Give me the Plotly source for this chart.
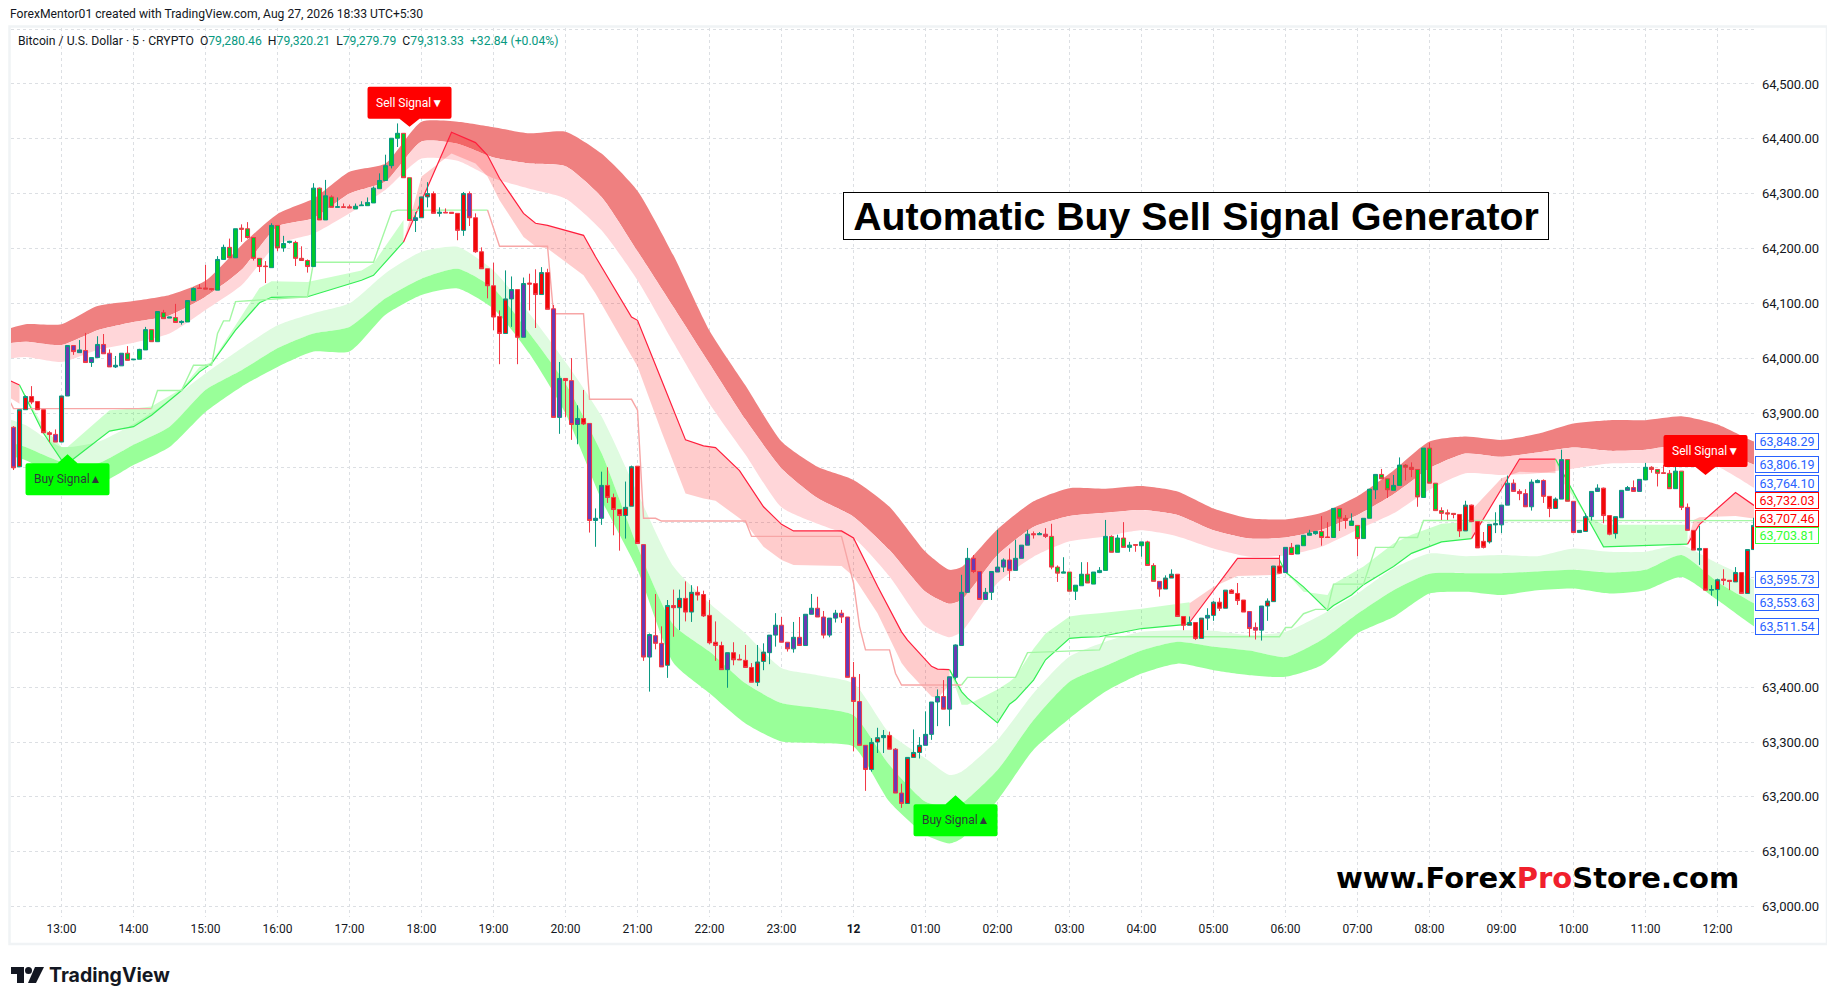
import pandas as pd
import plotly.graph_objects as go

# bar numbers count 5 minute bars from 13:00, so -8 is 12:20
start_time = pd.Timestamp("2026-08-11 13:00")
first_bar = -8

opens = [
    63874, 63802, 63906, 63930, 63921, 63906, 63864, 63861, 63847, 63931,
    64023, 64010, 64014, 63992, 64001, 64025, 64009, 63984, 63986, 64009,
    63997, 63998, 64015, 64052, 64030, 64083, 64073, 64074, 64065, 64066,
    64105, 64128, 64128, 64127, 64124, 64180, 64202, 64183, 64237, 64236,
    64220, 64182, 64168, 64165, 64242, 64201, 64211, 64211, 64182, 64178,
    64167, 64310, 64252, 64294, 64275, 64276, 64276, 64272, 64278, 64278,
    64283, 64309, 64324, 64351, 64401, 64410, 64329, 64251, 64256, 64294,
    64300, 64264, 64266, 64266, 64264, 64233, 64300, 64256, 64194, 64163,
    64132, 64076, 64045, 64108, 64125, 64038, 64137, 64136, 64116, 64156,
    64090, 63892, 63963, 63959, 63879, 63890, 63881, 63704, 63708, 63768,
    63746, 63724, 63713, 63730, 63803, 63660, 63455, 63494, 63480, 63440,
    63549, 63545, 63562, 63537, 63573, 63569, 63531, 63482, 63476, 63432,
    63463, 63451, 63449, 63436, 63409, 63447, 63463, 63495, 63513, 63482,
    63470, 63491, 63476, 63533, 63544, 63528, 63495, 63526, 63535, 63528,
    63418, 63374, 63294, 63250, 63300, 63308, 63312, 63287, 63207, 63188,
    63272, 63281, 63294, 63314, 63373, 63383, 63360, 63418, 63476, 63573,
    63635, 63611, 63560, 63573, 63610, 63619, 63632, 63613, 63635, 63659,
    63680, 63678, 63679, 63675, 63619, 63608, 63610, 63575, 63585, 63606,
    63588, 63609, 63613, 63675, 63646, 63672, 63655, 63660, 63658, 63665,
    63622, 63593, 63579, 63599, 63606, 63529, 63513, 63518, 63489, 63526,
    63531, 63555, 63544, 63577, 63571, 63559, 63538, 63509, 63504, 63548,
    63556, 63621, 63609, 63655, 63643, 63658, 63677, 63680, 63684, 63674,
    63673, 63726, 63708, 63695, 63695, 63671, 63708, 63760, 63788, 63780,
    63759, 63768, 63805, 63801, 63797, 63746, 63836, 63772, 63722, 63718,
    63717, 63715, 63685, 63732, 63702, 63666, 63665, 63696, 63696, 63732,
    63772, 63757, 63753, 63729, 63773, 63777, 63748, 63726, 63743, 63815,
    63739, 63682, 63684, 63711, 63757, 63763, 63713, 63680, 63709, 63759,
    63764, 63757, 63778, 63801, 63797, 63791, 63790, 63762, 63794, 63728,
    63686, 63650, 63653, 63577, 63578, 63597, 63595, 63592, 63609, 63571, 63651,
]
highs = [
    63876, 63906, 63932, 63949, 63921, 63906, 63867, 63870, 63931, 64023,
    64023, 64033, 64046, 64001, 64040, 64044, 64016, 64004, 64009, 64022,
    63998, 64017, 64057, 64052, 64085, 64088, 64075, 64099, 64069, 64105,
    64129, 64135, 64170, 64128, 64186, 64207, 64218, 64236, 64244, 64248,
    64220, 64182, 64177, 64246, 64242, 64223, 64214, 64214, 64204, 64180,
    64319, 64311, 64325, 64297, 64293, 64282, 64280, 64282, 64286, 64293,
    64313, 64337, 64371, 64401, 64428, 64410, 64329, 64266, 64294, 64321,
    64304, 64275, 64273, 64266, 64264, 64303, 64304, 64264, 64202, 64163,
    64174, 64087, 64160, 64149, 64125, 64147, 64154, 64162, 64166, 64163,
    64097, 63993, 63963, 64000, 63914, 63942, 63881, 63726, 63793, 63801,
    63753, 63724, 63775, 63804, 63803, 63660, 63498, 63570, 63511, 63559,
    63578, 63578, 63593, 63586, 63584, 63576, 63559, 63520, 63483, 63463,
    63482, 63460, 63477, 63444, 63477, 63480, 63495, 63535, 63528, 63482,
    63519, 63528, 63533, 63570, 63565, 63539, 63526, 63541, 63541, 63528,
    63446, 63424, 63294, 63307, 63326, 63322, 63319, 63289, 63224, 63272,
    63323, 63309, 63356, 63373, 63396, 63413, 63419, 63478, 63605, 63654,
    63641, 63611, 63581, 63611, 63687, 63635, 63653, 63669, 63659, 63687,
    63684, 63683, 63690, 63698, 63622, 63637, 63610, 63586, 63628, 63628,
    63610, 63619, 63705, 63677, 63678, 63701, 63665, 63660, 63665, 63667,
    63626, 63593, 63604, 63615, 63606, 63529, 63529, 63518, 63526, 63544,
    63557, 63563, 63577, 63579, 63590, 63559, 63538, 63518, 63548, 63562,
    63621, 63641, 63655, 63663, 63659, 63677, 63687, 63684, 63712, 63701,
    63726, 63726, 63714, 63717, 63695, 63708, 63761, 63788, 63798, 63780,
    63787, 63819, 63807, 63810, 63797, 63836, 63846, 63772, 63728, 63724,
    63717, 63715, 63740, 63733, 63702, 63683, 63697, 63719, 63732, 63786,
    63779, 63761, 63761, 63779, 63779, 63779, 63748, 63746, 63833, 63815,
    63739, 63686, 63717, 63757, 63770, 63764, 63713, 63711, 63759, 63767,
    63777, 63779, 63809, 63803, 63797, 63805, 63796, 63808, 63794, 63735,
    63686, 63694, 63653, 63586, 63598, 63615, 63595, 63619, 63609, 63651, 63709,
]
lows = [
    63796, 63802, 63906, 63916, 63906, 63864, 63847, 63847, 63847, 63931,
    64006, 64010, 63992, 63984, 64001, 64008, 63984, 63982, 63986, 63996,
    63997, 63998, 64015, 64030, 64030, 64072, 64073, 64065, 64061, 64066,
    64104, 64127, 64126, 64123, 64124, 64180, 64183, 64183, 64212, 64218,
    64178, 64157, 64137, 64165, 64195, 64194, 64209, 64168, 64178, 64156,
    64167, 64252, 64252, 64275, 64275, 64275, 64274, 64272, 64278, 64278,
    64283, 64309, 64324, 64346, 64385, 64329, 64251, 64230, 64256, 64275,
    64264, 64258, 64265, 64264, 64215, 64223, 64241, 64192, 64163, 64109,
    64051, 63989, 64045, 64057, 63989, 64038, 64087, 64055, 64116, 64089,
    63892, 63862, 63892, 63851, 63843, 63878, 63682, 63656, 63696, 63736,
    63677, 63649, 63671, 63730, 63662, 63448, 63392, 63469, 63437, 63417,
    63492, 63504, 63520, 63519, 63558, 63528, 63478, 63448, 63432, 63399,
    63440, 63450, 63436, 63409, 63402, 63431, 63442, 63474, 63482, 63465,
    63463, 63476, 63476, 63533, 63528, 63489, 63491, 63518, 63517, 63418,
    63283, 63294, 63211, 63246, 63280, 63280, 63287, 63207, 63180, 63188,
    63272, 63270, 63294, 63304, 63329, 63360, 63329, 63414, 63476, 63573,
    63608, 63560, 63560, 63559, 63610, 63610, 63594, 63613, 63635, 63659,
    63671, 63678, 63672, 63615, 63592, 63608, 63575, 63559, 63585, 63590,
    63588, 63608, 63613, 63646, 63646, 63655, 63647, 63647, 63638, 63622,
    63593, 63565, 63579, 63599, 63529, 63504, 63513, 63486, 63489, 63504,
    63521, 63539, 63544, 63571, 63550, 63537, 63492, 63487, 63485, 63521,
    63556, 63607, 63609, 63641, 63643, 63658, 63677, 63678, 63658, 63673,
    63673, 63685, 63689, 63695, 63639, 63671, 63708, 63743, 63780, 63745,
    63759, 63768, 63777, 63783, 63729, 63746, 63772, 63722, 63705, 63705,
    63708, 63674, 63685, 63702, 63654, 63653, 63662, 63681, 63681, 63732,
    63757, 63741, 63729, 63722, 63773, 63736, 63710, 63726, 63743, 63739,
    63682, 63682, 63684, 63704, 63757, 63699, 63677, 63671, 63709, 63759,
    63757, 63757, 63778, 63791, 63766, 63790, 63762, 63762, 63723, 63686,
    63650, 63623, 63576, 63567, 63548, 63586, 63577, 63592, 63571, 63571, 63651,
]
closes = [
    63800, 63906, 63930, 63920, 63906, 63864, 63861, 63847, 63931, 64023,
    64012, 64015, 63992, 64001, 64025, 64008, 63984, 63987, 64009, 63996,
    63998, 64016, 64052, 64030, 64085, 64072, 64075, 64065, 64067, 64105,
    64127, 64127, 64126, 64125, 64180, 64202, 64183, 64236, 64235, 64220,
    64182, 64167, 64167, 64242, 64201, 64209, 64213, 64182, 64178, 64167,
    64310, 64252, 64296, 64275, 64276, 64275, 64274, 64277, 64279, 64284,
    64310, 64324, 64351, 64401, 64410, 64329, 64251, 64256, 64294, 64300,
    64264, 64266, 64265, 64264, 64233, 64300, 64256, 64194, 64163, 64132,
    64075, 64045, 64108, 64125, 64038, 64136, 64135, 64116, 64156, 64089,
    63892, 63963, 63959, 63879, 63890, 63880, 63704, 63708, 63768, 63746,
    63724, 63713, 63728, 63802, 63662, 63455, 63496, 63480, 63437, 63549,
    63545, 63562, 63537, 63573, 63568, 63530, 63481, 63476, 63432, 63463,
    63450, 63450, 63436, 63409, 63446, 63464, 63495, 63513, 63482, 63470,
    63491, 63476, 63533, 63544, 63528, 63495, 63526, 63535, 63528, 63418,
    63374, 63294, 63250, 63299, 63308, 63312, 63287, 63207, 63188, 63272,
    63281, 63294, 63314, 63373, 63383, 63360, 63419, 63477, 63573, 63635,
    63611, 63560, 63573, 63611, 63619, 63632, 63613, 63635, 63659, 63679,
    63678, 63680, 63675, 63619, 63608, 63610, 63575, 63586, 63606, 63590,
    63610, 63613, 63675, 63646, 63672, 63655, 63659, 63659, 63665, 63622,
    63593, 63579, 63599, 63606, 63529, 63513, 63518, 63489, 63526, 63531,
    63555, 63544, 63577, 63571, 63558, 63537, 63507, 63504, 63548, 63557,
    63621, 63608, 63655, 63642, 63659, 63677, 63681, 63684, 63673, 63673,
    63726, 63708, 63704, 63703, 63671, 63708, 63761, 63788, 63780, 63760,
    63768, 63805, 63801, 63797, 63747, 63836, 63772, 63722, 63717, 63716,
    63715, 63685, 63732, 63702, 63654, 63655, 63697, 63698, 63732, 63772,
    63757, 63753, 63729, 63774, 63777, 63748, 63726, 63743, 63815, 63739,
    63682, 63686, 63711, 63757, 63763, 63713, 63679, 63711, 63759, 63764,
    63757, 63779, 63801, 63797, 63790, 63790, 63762, 63794, 63728, 63686,
    63650, 63653, 63577, 63578, 63596, 63595, 63593, 63609, 63571, 63651, 63695,
]
# body colour of each candle: g green, r red, p purple
body_fill = list(
    "prrrrrrprp" "pppppppppg" "gggggggggg" "gggggggggg" "gggggggggg"
    "gggggggggg" "gggggggprr" "rrrrrrprrr" "rrrprprrrr" "pprpprpppr"
    "rrrrrppppr" "rrrrrrrrrp" "rrrrrrpppp" "pppppppppp" "ppprrprppr"
    "rrpppppppp" "pppppppppp" "pppggggggg" "gggggggggg" "gprrrrrrrp"
    "rrrrrrpppr" "rrpggggggg" "gggggggggg" "gggggggggg" "grrrrrrrpp"
    "pppppprrpg" "prrpprrrpp" "ppgggggggp" "rrrprrrrrrr"
)

band_bars = [
    -9, -6, 0, 6, 12, 18, 24, 30, 36, 42, 48, 54, 60, 66, 72, 78, 84, 90, 96, 102,
    108, 114, 120, 126, 132, 138, 144, 148, 150, 156, 162, 168, 174, 180, 186, 192,
    198, 204, 210, 216, 222, 228, 234, 240, 246, 252, 258, 264, 270, 276, 282, 283,
]
red_top = [
    64053, 64062, 64062, 64095, 64104, 64115, 64141, 64206, 64263, 64291, 64340, 64355,
    64431, 64431, 64421, 64410, 64413, 64373, 64305, 64187, 64050, 63950, 63848, 63802,
    63778, 63729, 63647, 63614, 63619, 63688, 63739, 63763, 63762, 63767, 63757, 63726,
    63708, 63706, 63718, 63748, 63795, 63848, 63857, 63851, 63862, 63881, 63887, 63887,
    63894, 63879, 63848.29, 63845,
]
red_mid = [
    64027, 64030, 64024, 64051, 64066, 64078, 64112, 64161, 64240, 64255, 64300, 64322,
    64395, 64391, 64366, 64355, 64350, 64294, 64195, 64093, 63990, 63888, 63799, 63745,
    63711, 63650, 63574, 63552, 63559, 63641, 63692, 63712, 63718, 63723, 63714, 63686,
    63671, 63673, 63687, 63714, 63752, 63799, 63826, 63820, 63828, 63837, 63831, 63833,
    63842, 63833, 63806.19, 63802,
]
red_low = [
    63999, 64002, 63993, 64015, 64028, 64045, 64088, 64133, 64208, 64227, 64264, 64307,
    64364, 64360, 64328, 64309, 64291, 64233, 64142, 64028, 63917, 63824, 63728, 63698,
    63672, 63602, 63511, 63491, 63501, 63590, 63638, 63666, 63675, 63686, 63675, 63653,
    63638, 63640, 63656, 63687, 63717, 63760, 63790, 63787, 63790, 63799, 63808, 63809,
    63808, 63802, 63764.10, 63758,
]
green_top = [
    63890, 63878, 63838, 63847, 63880, 63923, 63972, 64018, 64060, 64082, 64100, 64155,
    64194, 64203, 64160, 64081, 63993, 63894, 63754, 63620, 63553, 63498, 63435, 63422,
    63407, 63316, 63270, 63240, 63246, 63304, 63389, 63456, 63483, 63501, 63504, 63503,
    63495, 63501, 63532, 63571, 63617, 63644, 63639, 63641, 63639, 63653, 63647, 63647,
    63659, 63626, 63595.73, 63590,
]
green_mid = [
    63848, 63838, 63811, 63808, 63842, 63875, 63942, 63978, 64018, 64045, 64057, 64109,
    64145, 64163, 64127, 64045, 63954, 63827, 63656, 63514, 63465, 63407, 63371, 63362,
    63349, 63258, 63191, 63182, 63188, 63249, 63340, 63410, 63439, 63467, 63483, 63474,
    63467, 63455, 63486, 63534, 63577, 63607, 63608, 63608, 63611, 63614, 63609, 63614,
    63641, 63592, 63553.63, 63548,
]
green_bot = [
    63823, 63814, 63781, 63770, 63805, 63838, 63902, 63948, 63984, 64012, 64012, 64079,
    64115, 64127, 64090, 64008, 63899, 63742, 63614, 63444, 63389, 63334, 63301, 63298,
    63292, 63191, 63131, 63115, 63124, 63194, 63286, 63343, 63392, 63425, 63443, 63431,
    63422, 63419, 63440, 63498, 63528, 63571, 63574, 63568, 63577, 63580, 63571, 63577,
    63601, 63559, 63511.54, 63506,
]

# thin trailing line and the edge its fill runs to, one set per run of the signal
red_a_bars = [-9, -7]
red_a_line = [63961, 63951]
red_a_edge = [63930, 63917]
green_a_bars = [-7, -3, 0, 1, 8, 12, 15, 20, 23, 25, 29, 33, 35, 41, 50, 52, 57]
green_a_line = [63951, 63863, 63814, 63808, 63867, 63875, 63896, 63941, 63975, 63990,
                64051, 64101, 64111, 64112, 64142, 64151, 64212]
green_a_edge = [63951, 63875, 63838, 63838, 63905, 63908, 63912, 63944, 63984, 63993,
                64060, 64128, 64140, 64139, 64160, 64173, 64252]
red_b_bars = [57, 60, 65, 69, 71, 73, 77, 79, 81, 87, 89, 95, 96, 100, 104, 107, 109,
              113, 114, 117, 120, 122, 130, 132, 136, 140, 141, 145, 146, 148]
red_b_line = [64212, 64287, 64412, 64393, 64370, 64328, 64264, 64246, 64242, 64224, 64185,
              64075, 64069, 63960, 63851, 63840, 63837, 63795, 63778, 63729, 63697, 63685,
              63685, 63672, 63584, 63501, 63486, 63438, 63433, 63432]
red_b_edge = [64212, 64331, 64373, 64355, 64331, 64288, 64221, 64204, 64200, 64151, 64118,
              64005, 63985, 63866, 63753, 63744, 63740, 63708, 63699, 63656, 63632, 63623,
              63621, 63602, 63535, 63444, 63430, 63383, 63380, 63404]
green_b_bars = [148, 150, 151, 156, 158, 159, 162, 164, 168, 170, 173, 180, 188]
green_b_line = [63432, 63392, 63380, 63335, 63369, 63377, 63413, 63450, 63489, 63491,
                63492, 63507, 63515]
green_b_edge = [63432, 63368, 63368, 63396, 63410, 63419, 63470, 63498, 63529, 63532,
                63535, 63543, 63555]
red_c_bars = [188, 192, 196, 203]
red_c_line = [63518, 63577, 63635, 63635]
red_c_edge = [63553, 63583, 63603, 63605]
green_c_bars = [203, 204, 207, 211, 212, 215, 217, 222, 225, 230, 235]
green_c_line = [63632, 63610, 63583, 63540, 63549, 63568, 63587, 63620, 63644, 63665, 63671]
green_c_edge = [63632, 63610, 63574, 63568, 63588, 63608, 63620, 63662, 63678, 63698, 63702]
red_d_bars = [235, 240, 243, 249]
red_d_line = [63671, 63763, 63816, 63816]
red_d_edge = [63723, 63781, 63793, 63790]
green_d_bars = [249, 250, 252, 254, 257, 271]
green_d_line = [63816, 63795, 63755, 63715, 63656, 63661]
green_d_edge = [63816, 63778, 63747, 63714, 63696, 63696]
red_e_bars = [271, 272, 273, 279, 282, 283]
red_e_line = [63661, 63679, 63697, 63755, 63732.03, 63728]
red_e_edge = [63661, 63705, 63710, 63712, 63707.46, 63707]

# pale stepped lines
step_red_a_bars = [-9, -8, 15]
step_red_a = [63930, 63908, 63908]
step_green_a_bars = [15, 16, 20, 22, 25, 26, 27, 28, 29, 41, 42, 52, 55, 56, 71]
step_green_a = [63908, 63941, 63941, 63987, 63987, 64045, 64068, 64068, 64103, 64112,
                64175, 64175, 64267, 64270, 64270]
step_red_b_bars = [71, 73, 81, 82, 87, 88, 95, 96, 97, 99, 100, 114, 115, 130, 132, 133,
                   134, 138, 139, 140, 150]
step_red_b = [64270, 64204, 64204, 64081, 64081, 63925, 63925, 63905, 63708, 63708, 63703,
              63703, 63675, 63675, 63590, 63511, 63468, 63468, 63425, 63404, 63404]
step_green_b_bars = [150, 151, 159, 161, 173, 174, 203, 204, 205, 207, 209, 211, 212, 217,
                     219, 222, 223, 226, 227, 283]
step_green_b = [63404, 63418, 63418, 63463, 63468, 63492, 63492, 63509, 63509, 63534, 63542,
                63542, 63588, 63588, 63655, 63655, 63673, 63673, 63704, 63703.81]

signal_bars = [58, 274, 1, 149]
signal_prices = [64422, 63787, 63825, 63203]
signal_texts = ["Sell Signal▼", "Sell Signal▼", "Buy Signal▲", "Buy Signal▲"]

price_ticks = [63000, 63100, 63200, 63300, 63400, 63500, 63600, 63700, 63800, 63900,
               64000, 64100, 64200, 64300, 64400, 64500, 64600]
price_labels = ["63,000.00", "63,100.00", "63,200.00", "63,300.00", "63,400.00", "", "", "", "",
                "63,900.00", "64,000.00", "64,100.00", "64,200.00", "64,300.00",
                "64,400.00", "64,500.00", ""]
time_labels = ["13:00", "14:00", "15:00", "16:00", "17:00", "18:00", "19:00", "20:00", "21:00",
               "22:00", "23:00", "<b>12</b>", "01:00", "02:00", "03:00", "04:00", "05:00", "06:00",
               "07:00", "08:00", "09:00", "10:00", "11:00", "12:00"]

end_values = [63848.29, 63806.19, 63764.10, 63732.03, 63707.46, 63703.81, 63595.73, 63553.63, 63511.54]
end_colors = ["#2962ff", "#2962ff", "#2962ff", "#ff0000", "#ff0000", "#33ff33", "#2962ff", "#2962ff", "#2962ff"]
end_shifts = [0, 0, 4, 5, 0, -15, 0, 0, 0]

FONT = "Roboto"
# page positions; the page body keeps its 8px margin round the figure
PAGE_MARGIN = 8
PLOT_LEFT, PLOT_RIGHT, PLOT_TOP, PLOT_BOTTOM = 11, 1754, 28, 917
PRICE_RANGE = [62981, 64602]

BODY_COLORS = {"g": "#00c92c", "r": "#f00808", "p": "#6a3ab2"}
UP_COLOR = "#089981"
DOWN_COLOR = "#f23645"


def bar_times(bars):
    return [start_time + pd.Timedelta(minutes=5 * b) for b in bars]


def paper_x(px):
    return (px - PLOT_LEFT) / (PLOT_RIGHT - PLOT_LEFT)


def paper_y(px):
    return (PLOT_BOTTOM - px) / (PLOT_BOTTOM - PLOT_TOP)


def add_fill(fig, bars, upper, lower, color, shape="spline"):
    line = dict(width=0, shape=shape, smoothing=0.6)
    fig.add_trace(go.Scatter(x=bar_times(bars), y=upper, mode="lines", line=line, hoverinfo="skip"))
    fig.add_trace(go.Scatter(x=bar_times(bars), y=lower, mode="lines", line=line, hoverinfo="skip",
                             fill="tonexty", fillcolor=color))


def add_signal_run(fig, bars, line_values, edge_values, line_color, fill_color):
    add_fill(fig, bars, edge_values, line_values, fill_color, shape="linear")
    fig.add_trace(go.Scatter(x=bar_times(bars), y=line_values, mode="lines",
                             line=dict(color=line_color, width=1.2), hoverinfo="skip"))


def add_step(fig, bars, values, color):
    fig.add_trace(go.Scatter(x=bar_times(bars), y=values, mode="lines",
                             line=dict(color=color, width=1.4), hoverinfo="skip"))


def add_signal_label(fig, bar, price, text):
    when = bar_times([bar])[0]
    if text.startswith("Sell"):
        path = ("M0,0 L-10,8 L-40,8 Q-42,8 -42,10 L-42,38 Q-42,40 -40,40 L40,40 Q42,40 42,38 "
                "L42,10 Q42,8 40,8 L10,8 Z")
        fill, font_color, shift = "#ff0000", "#ffffff", 24
    else:
        path = ("M0,0 L-10,-9 L-40,-9 Q-42,-9 -42,-11 L-42,-39 Q-42,-41 -40,-41 L40,-41 Q42,-41 42,-39 "
                "L42,-11 Q42,-9 40,-9 L10,-9 Z")
        fill, font_color, shift = "#00ff00", "#2f3a3a", -25
    fig.add_shape(type="path", xref="x", yref="y", xsizemode="pixel", ysizemode="pixel",
                  xanchor=when, yanchor=price, path=path, fillcolor=fill, line_width=0, layer="above")
    fig.add_annotation(x=when, y=price, xref="x", yref="y", yshift=shift, text=text, showarrow=False,
                       font=dict(family=FONT, size=12, color=font_color))


fig = go.Figure()

add_fill(fig, band_bars, red_top, red_mid, "#ef8080")
add_fill(fig, band_bars, red_mid, red_low, "#ffd6d9")
add_fill(fig, band_bars, green_top, green_mid, "#dffbe0")
add_fill(fig, band_bars, green_mid, green_bot, "#99ff99")

RED_FILL = "rgba(255,0,0,0.2)"
GREEN_FILL = "rgba(0,255,0,0.2)"
THIN_RED = "#ff1f3d"
THIN_GREEN = "#33ee55"
add_signal_run(fig, red_a_bars, red_a_line, red_a_edge, THIN_RED, RED_FILL)
add_signal_run(fig, green_a_bars, green_a_line, green_a_edge, THIN_GREEN, GREEN_FILL)
add_signal_run(fig, red_b_bars, red_b_line, red_b_edge, THIN_RED, RED_FILL)
add_signal_run(fig, green_b_bars, green_b_line, green_b_edge, THIN_GREEN, GREEN_FILL)
add_signal_run(fig, red_c_bars, red_c_line, red_c_edge, THIN_RED, RED_FILL)
add_signal_run(fig, green_c_bars, green_c_line, green_c_edge, THIN_GREEN, GREEN_FILL)
add_signal_run(fig, red_d_bars, red_d_line, red_d_edge, THIN_RED, RED_FILL)
add_signal_run(fig, green_d_bars, green_d_line, green_d_edge, THIN_GREEN, GREEN_FILL)
add_signal_run(fig, red_e_bars, red_e_line, red_e_edge, THIN_RED, RED_FILL)

add_step(fig, step_red_a_bars, step_red_a, "#f7a6a6")
add_step(fig, step_green_a_bars, step_green_a, "#a3f7a3")
add_step(fig, step_red_b_bars, step_red_b, "#f7a6a6")
add_step(fig, step_green_b_bars, step_green_b, "#a3f7a3")

# candles sit on an overlaid axis pair, scatter traces would cover them otherwise
candle_times = bar_times(range(first_bar, first_bar + len(opens)))
for key, color in BODY_COLORS.items():
    keep = [f == key for f in body_fill]
    fig.add_trace(go.Candlestick(
        x=candle_times,
        open=[v if k else None for v, k in zip(opens, keep)],
        high=[v if k else None for v, k in zip(highs, keep)],
        low=[v if k else None for v, k in zip(lows, keep)],
        close=[v if k else None for v, k in zip(closes, keep)],
        xaxis="x2", yaxis="y2", whiskerwidth=0, hoverinfo="skip",
        increasing=dict(line=dict(color=UP_COLOR, width=1), fillcolor=color),
        decreasing=dict(line=dict(color=DOWN_COLOR, width=1), fillcolor=color),
    ))

for bar, price, text in zip(signal_bars, signal_prices, signal_texts):
    add_signal_label(fig, bar, price, text)

for value, color, shift in zip(end_values, end_colors, end_shifts):
    fig.add_annotation(xref="paper", yref="y", x=paper_x(1755), y=value, yshift=shift,
                       xanchor="left", yanchor="middle", text=f"{value:,.2f}", showarrow=False,
                       width=60, height=13, align="center", bgcolor="#ffffff", bordercolor=color,
                       borderwidth=1, borderpad=1, font=dict(family=FONT, size=12.5, color=color))

teal = '<span style="color:#089981">'
gap = "&nbsp;&nbsp;"
header = (f'Bitcoin / U.S. Dollar · 5 · CRYPTO{gap}O{teal}79,280.46</span>{gap}H{teal}79,320.21</span>{gap}'
          f'L{teal}79,279.79</span>{gap}C{teal}79,313.33</span>{gap}{teal}+32.84 (+0.04%)</span>')
fig.add_annotation(xref="paper", yref="paper", x=paper_x(16), y=paper_y(41.5), xanchor="left",
                   yanchor="middle", text=header, showarrow=False,
                   font=dict(family=FONT, size=12.2, color="#131722"))
fig.add_annotation(xref="paper", yref="paper", x=paper_x(8), y=paper_y(14.5), xanchor="left",
                   yanchor="middle", text="ForexMentor01 created with TradingView.com, Aug 27, 2026 18:33 UTC+5:30",
                   showarrow=False, font=dict(family=FONT, size=12.15, color="#131722"))
fig.add_annotation(xref="paper", yref="paper", x=paper_x(843), y=paper_y(191.5), xanchor="left",
                   yanchor="top", text="<b>Automatic Buy Sell Signal Generator</b>", showarrow=False,
                   width=702, height=44, bgcolor="#ffffff", bordercolor="#000000", borderwidth=1,
                   font=dict(family="Liberation Sans", size=39.3, color="#000000"))
fig.add_annotation(xref="paper", yref="paper", x=paper_x(1334), y=paper_y(878), xanchor="left",
                   yanchor="middle", showarrow=False,
                   text='<b>www.Forex<span style="color:#f0202c">Pro</span>Store.com</b>',
                   font=dict(family="DejaVu Sans", size=29, color="#000000"))
fig.add_annotation(xref="paper", yref="paper", x=paper_x(47), y=paper_y(975), xanchor="left",
                   yanchor="middle", text="<b>TradingView</b>", showarrow=False,
                   font=dict(family="Inter", size=19.5, color="#131722"))

# outer frame of the chart and the logo mark
fig.add_shape(type="rect", xref="paper", yref="paper", x0=paper_x(9.5), x1=paper_x(1827),
              y0=paper_y(944), y1=paper_y(26.5), line=dict(color="#f0f3f5", width=2.5), layer="below")
fig.add_shape(type="path", xref="paper", yref="paper", xsizemode="pixel", ysizemode="pixel",
              xanchor=paper_x(11), yanchor=paper_y(983), fillcolor="#131722", line_width=0,
              path="M0,16 L13,16 L13,0 L6,0 L6,9 L0,9 Z M24,16 L33,16 L25,0 L17,0 Z")
fig.add_shape(type="circle", xref="paper", yref="paper", xsizemode="pixel", ysizemode="pixel",
              xanchor=paper_x(11), yanchor=paper_y(983), x0=14, x1=21, y0=9, y1=16,
              fillcolor="#131722", line_width=0)

time_range = [start_time + pd.Timedelta(minutes=5 * -8.42), start_time + pd.Timedelta(minutes=5 * 282.08)]
fig.update_layout(
    width=1835 - PAGE_MARGIN,
    height=1004 - PAGE_MARGIN,
    autosize=False,
    margin=dict(l=PLOT_LEFT - PAGE_MARGIN, r=1835 - PLOT_RIGHT, t=PLOT_TOP - PAGE_MARGIN,
                b=1004 - PLOT_BOTTOM, pad=0),
    paper_bgcolor="#ffffff",
    plot_bgcolor="#ffffff",
    showlegend=False,
    boxmode="overlay",
    boxgap=0.1,
    boxgroupgap=0.25,
    font=dict(family=FONT, size=12, color="#131722"),
    xaxis=dict(
        range=time_range,
        tickmode="array",
        tickvals=bar_times(range(0, 277, 12)),
        ticktext=time_labels,
        showgrid=True,
        gridcolor="#dcdfe3",
        griddash="dot",
        gridwidth=1,
        zeroline=False,
        showline=False,
        ticks="",
        ticklabelstandoff=3,
        rangeslider=dict(visible=False),
    ),
    yaxis=dict(
        range=PRICE_RANGE,
        side="right",
        tickmode="array",
        tickvals=price_ticks,
        ticktext=price_labels,
        tickfont=dict(size=13),
        showgrid=True,
        gridcolor="#dcdfe3",
        griddash="dot",
        gridwidth=1,
        zeroline=False,
        showline=False,
        ticks="",
        ticklabelstandoff=7,
    ),
    xaxis2=dict(range=time_range, overlaying="x", visible=False, rangeslider=dict(visible=False)),
    yaxis2=dict(range=PRICE_RANGE, overlaying="y", visible=False, side="right"),
)

fig.write_html("out.html")
